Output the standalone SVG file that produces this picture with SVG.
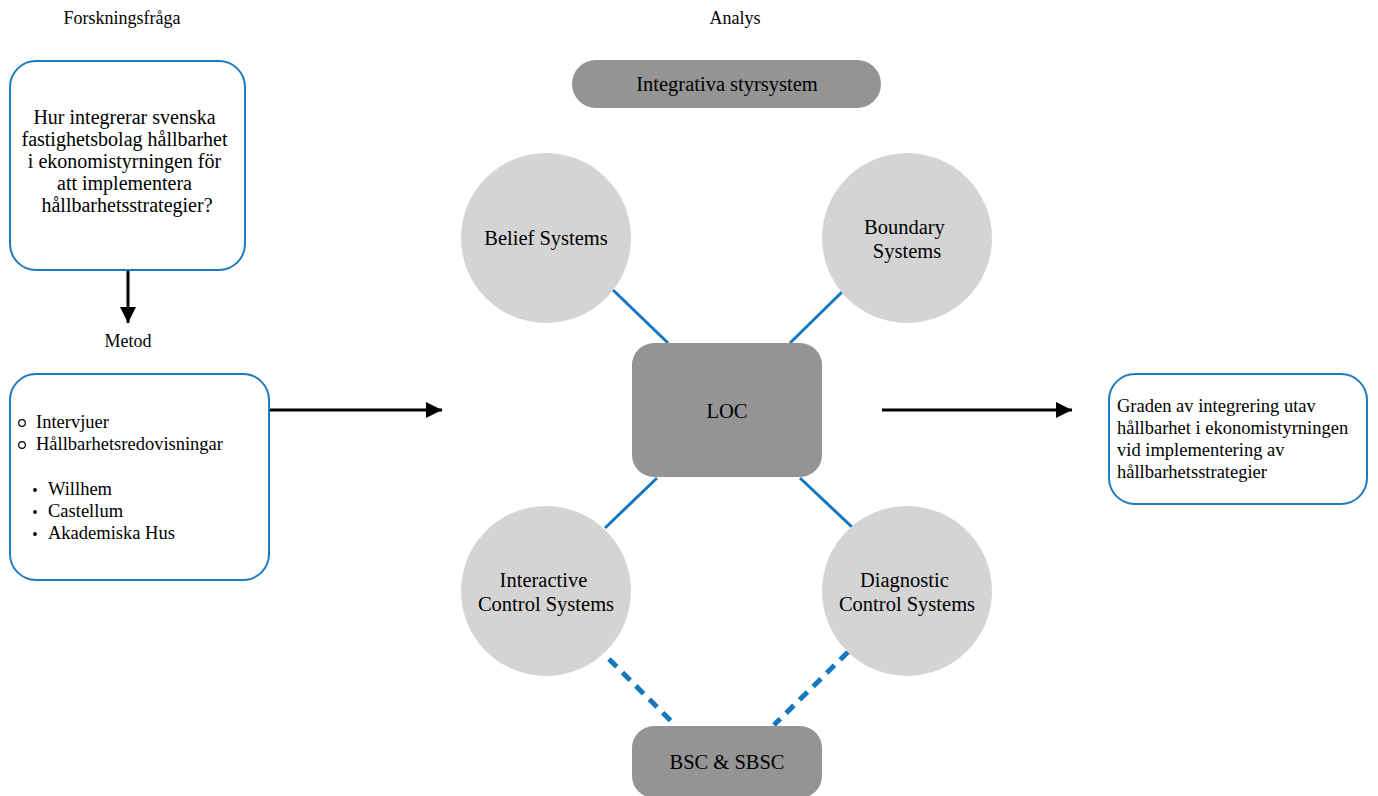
<svg xmlns="http://www.w3.org/2000/svg" width="1378" height="796" viewBox="0 0 1378 796">
  <defs>
    <marker id="arrow" markerWidth="16" markerHeight="16" refX="16" refY="8" orient="auto" markerUnits="userSpaceOnUse" viewBox="0 0 16 16">
      <path d="M0,0 L16,8 L0,16 Z" fill="#000"/>
    </marker>
    <style>
      text { font-family: "Liberation Serif", "Times New Roman", serif; fill: #000; }
      .title { font-size: 18px; text-anchor: middle; }
      .body { font-size: 18.5px; }
      .big { font-size: 20.5px; }
      .mid { text-anchor: middle; }
      .box { fill: #fff; stroke: #1f7bc1; stroke-width: 2; }
      .dark { fill: #949494; }
      .circle { fill: #d4d4d4; }
      .link { stroke: #1477bf; stroke-width: 3; fill: none; }
      .dash { stroke: #1477bf; stroke-width: 5; stroke-dasharray: 11 8; fill: none; }
      .flow { stroke: #000; stroke-width: 3; fill: none; }
    </style>
  </defs>
  <rect width="1378" height="796" fill="#fff"/>

  <!-- section headings -->
  <text class="title" x="122" y="24">Forskningsfråga</text>
  <text class="title" x="128" y="347">Metod</text>
  <text class="title" x="735" y="24">Analys</text>

  <!-- connectors -->
  <g id="connectors">
    <line class="flow" x1="128" y1="270" x2="128" y2="323" marker-end="url(#arrow)"/>
    <line class="flow" x1="270" y1="410" x2="442" y2="410" marker-end="url(#arrow)"/>
    <line class="flow" x1="882" y1="410" x2="1072" y2="410" marker-end="url(#arrow)"/>
    <line class="link" x1="613" y1="290" x2="668" y2="343"/>
    <line class="link" x1="842" y1="292" x2="790" y2="343"/>
    <line class="link" x1="657" y1="478" x2="605" y2="528"/>
    <line class="link" x1="800" y1="478" x2="852" y2="527"/>
    <line class="dash" x1="609" y1="659" x2="675" y2="725"/>
    <line class="dash" x1="848" y1="652" x2="774" y2="725"/>
  </g>

  <!-- research question -->
  <g id="question">
    <rect class="box" x="10" y="61" width="235" height="209" rx="26"/>
    <text class="mid" style="font-size:20px">
      <tspan x="127" y="124">Hur integrerar svenska</tspan>
      <tspan x="127" y="146">fastighetsbolag hållbarhet</tspan>
      <tspan x="127" y="168">i ekonomistyrningen för</tspan>
      <tspan x="127" y="190">att implementera</tspan>
      <tspan x="127" y="212">hållbarhetsstrategier?</tspan>
    </text>
  </g>

  <!-- method -->
  <g id="method">
    <rect class="box" x="10" y="374" width="259" height="206" rx="26"/>
    <circle cx="22" cy="423" r="3.3" fill="none" stroke="#000" stroke-width="1.2"/>
    <circle cx="22" cy="445" r="3.3" fill="none" stroke="#000" stroke-width="1.2"/>
    <text class="body" x="36" y="428">Intervjuer</text>
    <text class="body" x="36" y="450">Hållbarhetsredovisningar</text>
    <circle cx="35" cy="490" r="1.9" fill="#000"/>
    <circle cx="35" cy="512" r="1.9" fill="#000"/>
    <circle cx="35" cy="534" r="1.9" fill="#000"/>
    <text class="body" x="48" y="495">Willhem</text>
    <text class="body" x="48" y="517">Castellum</text>
    <text class="body" x="48" y="539">Akademiska Hus</text>
  </g>

  <!-- analysis framework -->
  <g id="integrative">
    <rect class="dark" x="572" y="60" width="309" height="48" rx="24"/>
    <text class="big mid" x="727" y="91">Integrativa styrsystem</text>
  </g>

  <g id="belief">
    <circle class="circle" cx="546" cy="238" r="85"/>
    <text class="big mid" x="546" y="245">Belief Systems</text>
  </g>

  <g id="boundary">
    <circle class="circle" cx="907" cy="238" r="85"/>
    <text class="big mid">
      <tspan x="907" y="234">Boundary</tspan>
      <tspan x="907" y="258">Systems</tspan>
    </text>
  </g>

  <g id="loc">
    <rect class="dark" x="632" y="343" width="190" height="134" rx="22"/>
    <text class="big mid" x="727" y="418">LOC</text>
  </g>

  <g id="interactive">
    <circle class="circle" cx="546" cy="591" r="85"/>
    <text class="big mid">
      <tspan x="546" y="587">Interactive</tspan>
      <tspan x="546" y="611">Control Systems</tspan>
    </text>
  </g>

  <g id="diagnostic">
    <circle class="circle" cx="907" cy="591" r="85"/>
    <text class="big mid">
      <tspan x="907" y="587">Diagnostic</tspan>
      <tspan x="907" y="611">Control Systems</tspan>
    </text>
  </g>

  <g id="bsc">
    <rect class="dark" x="632" y="726" width="190" height="72" rx="22"/>
    <text class="big mid" x="727" y="769">BSC &amp; SBSC</text>
  </g>

  <!-- outcome -->
  <g id="outcome">
    <rect class="box" x="1109" y="374" width="258" height="130" rx="26"/>
    <text class="body">
      <tspan x="1117" y="412">Graden av integrering utav</tspan>
      <tspan x="1117" y="434">hållbarhet i ekonomistyrningen</tspan>
      <tspan x="1117" y="456">vid implementering av</tspan>
      <tspan x="1117" y="478">hållbarhetsstrategier</tspan>
    </text>
  </g>
</svg>
